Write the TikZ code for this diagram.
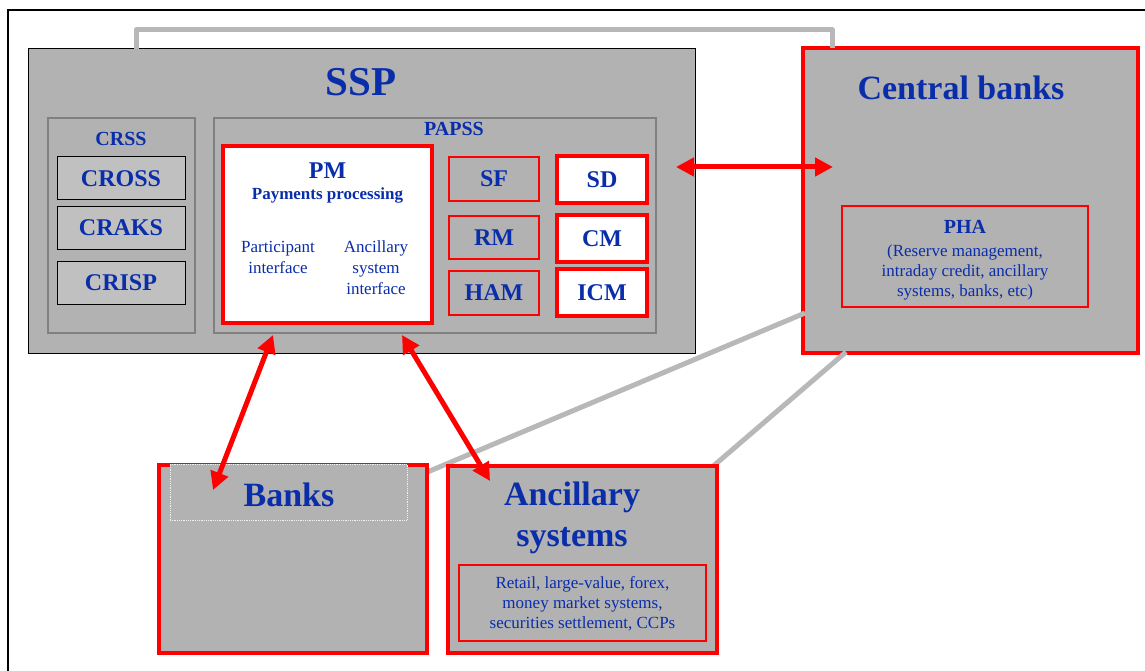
\documentclass[tikz,border=0pt]{standalone}
\usepackage{fontspec}
\setmainfont{Liberation Serif}
\usetikzlibrary{arrows.meta}
\definecolor{boxgray}{RGB}{178,178,178}
\definecolor{lightbox}{RGB}{192,192,192}
\definecolor{txtblue}{RGB}{10,45,170}
\definecolor{linegray}{RGB}{184,184,184}
\definecolor{pured}{RGB}{255,0,0}
\definecolor{framegray}{RGB}{128,128,128}
\begin{document}
\begin{tikzpicture}[x=1pt,y=-1pt,
  box/.style={rectangle, inner sep=0pt, outer sep=0pt, anchor=center},
  sspbox/.style={box, draw=black, line width=1pt, fill=boxgray},
  groupbox/.style={box, draw=framegray, line width=1.5pt, fill=boxgray},
  crbox/.style={box, draw=black, line width=1pt, fill=lightbox, minimum width=128pt, minimum height=43pt, font=\fontsize{24}{28}\selectfont\bfseries, text=txtblue},
  thinred/.style={box, draw=pured, line width=1.2pt, fill=boxgray, text=txtblue},
  thickred/.style={box, draw=pured, line width=4pt, fill=boxgray, text=txtblue},
  whitered/.style={box, draw=pured, line width=4pt, fill=white, text=txtblue},
  modbox/.style={minimum width=90pt, font=\fontsize{24}{28}\selectfont\bfseries},
  lbl/.style={inner sep=0pt, text=txtblue, align=center},
  bigtitle/.style={lbl, font=\fontsize{34}{41}\selectfont\bfseries},
  midtitle/.style={lbl, font=\fontsize{20}{24}\selectfont\bfseries},
  smalltxt/.style={lbl, font=\fontsize{17}{20.5}\selectfont},
  grayline/.style={draw=linegray, line width=5pt, line join=round},
  redarrow/.style={draw=pured, line width=5pt, {Triangle[length=18pt,width=18pt]}-{Triangle[length=18pt,width=18pt]}}
]
\useasboundingbox (0,0) rectangle (1145,671);
\clip (0,0) rectangle (1145,671);
% outer frame
\draw[black, line width=1.5pt] (8,700) -- (8,10) -- (1200,10);

% boxes
\node[sspbox, minimum width=667pt, minimum height=304pt] (ssp) at (361.5,201) {};
\node[thickred, minimum width=335pt, minimum height=305pt] (cb) at (970.5,200.5) {};

% gray connectors (drawn under boxes ends)
\coordinate (gturn) at (832,30);
\draw[grayline] ([xshift=108pt]ssp.north west) |- (gturn) -- ([xshift=29pt]cb.north west);

\node[font=\fontsize{41}{48}\selectfont\bfseries, lbl] (ssplbl) at (361,82) {SSP};

\node[groupbox, minimum width=147pt, minimum height=215pt] (crss) at (121.5,225.5) {};
\node[midtitle] (crsslbl) at (121,139) {CRSS};
\node[crbox] (cross) at (121,178.5) {CROSS};
\node[crbox] (craks) at (121,227.5) {CRAKS};
\node[crbox] (crisp) at (121,282.5) {CRISP};

\node[groupbox, minimum width=442pt, minimum height=215pt] (papss) at (435,225.5) {};
\node[midtitle] (papsslbl) at (454,129) {PAPSS};

\node[whitered, minimum width=209pt, minimum height=177pt] (pm) at (327.5,234.5) {};
\node[lbl, font=\fontsize{24}{28}\selectfont\bfseries] (pmlbl) at (327.5,171) {PM};
\node[lbl, font=\fontsize{17}{20}\selectfont\bfseries] (pmsub) at (327.5,195) {Payments processing};
\node[smalltxt, font=\fontsize{17}{21}\selectfont] (partif) at (278,257.5) {Participant\\interface};
\node[smalltxt, font=\fontsize{17}{21}\selectfont] (ancif) at (376,268) {Ancillary\\system\\interface};

\node[thinred, modbox, minimum height=44pt] (sf) at (494,179) {SF};
\node[whitered, modbox, minimum height=47pt] (sd) at (602,179.5) {SD};
\node[thinred, modbox, minimum height=43pt] (rm) at (494,237.5) {RM};
\node[whitered, modbox, minimum height=47pt] (cm) at (602,238.5) {CM};
\node[thinred, modbox, minimum height=44pt] (ham) at (494,293) {HAM};
\node[whitered, modbox, minimum height=47pt] (icm) at (602,292.5) {ICM};

% central banks contents
\node[bigtitle] (cblbl) at (961,88) {Central banks};
\node[thinred, minimum width=246pt, minimum height=101pt] (pha) at (965,256.5) {};
\node[midtitle] (phalbl) at (965,227) {PHA};
\node[smalltxt, font=\fontsize{17}{20}\selectfont] (phatxt) at (965,272) {(Reserve management,\\intraday credit, ancillary\\systems, banks, etc)};

% lower gray lines
\draw[grayline] (425,473) -- (805,313);
\draw[grayline] (711,468) -- (846,352);

% banks
\node[thickred, minimum width=268pt, minimum height=188pt] (banks) at (293,559) {};
\node[box, fill=boxgray, draw=white!80!boxgray, densely dotted, line width=0.8pt, minimum width=237pt, minimum height=56pt] (bankslbl) at (288.5,492) {};
\node[bigtitle] (bankstxt) at (289,495) {Banks};

% ancillary systems
\node[thickred, minimum width=269pt, minimum height=187pt] (anc) at (582.5,559.5) {};
\node[bigtitle] (anclbl) at (572,517.5) {Ancillary\\systems};
\node[thinred, minimum width=247pt, minimum height=76pt] (ancin) at (582.5,603) {};
\node[smalltxt, font=\fontsize{17}{20}\selectfont] (anctxt) at (582.5,604) {Retail, large-value, forex,\\money market systems,\\securities settlement, CCPs};

% red arrows
\draw[redarrow] ([shift={(-19pt,34pt)}]ssp.east) -- ([shift={(30pt,33.5pt)}]cb.west);
\draw[redarrow] ([shift={(50pt,-12pt)}]pm.south west) -- ([shift={(54pt,-25pt)}]banks.north west);
\draw[redarrow] ([shift={(-30pt,-12pt)}]pm.south east) -- ([shift={(42pt,-15pt)}]anc.north west);
\end{tikzpicture}
\end{document}
